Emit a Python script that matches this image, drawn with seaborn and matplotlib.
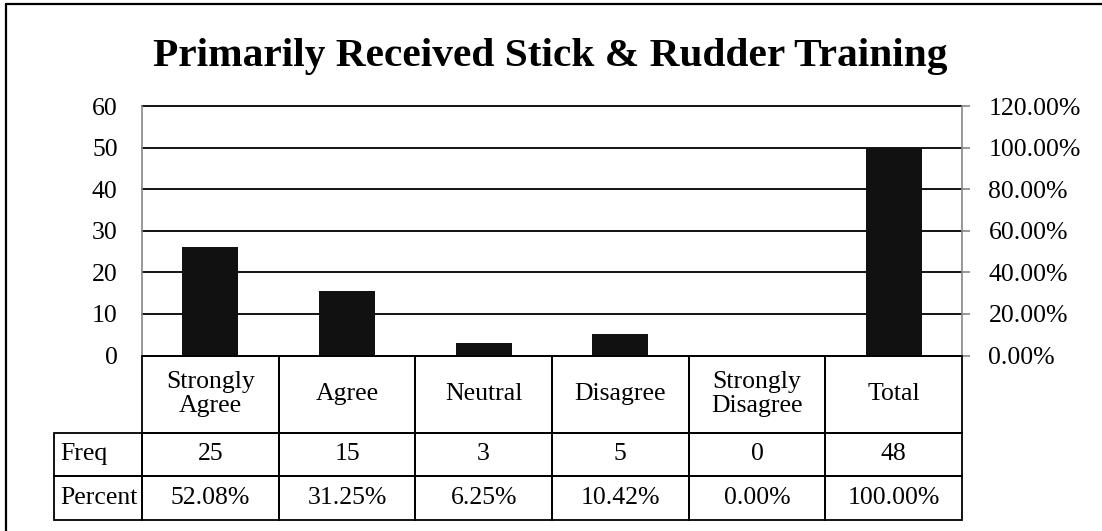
import matplotlib
matplotlib.use("Agg")
import matplotlib.pyplot as plt
from matplotlib.lines import Line2D
from matplotlib.ticker import FuncFormatter, MultipleLocator
import seaborn as sns
import pandas as pd

# ---- data ----
categories = ["Strongly\nAgree", "Agree", "Neutral", "Disagree", "Strongly\nDisagree", "Total"]
freq = [25, 15, 3, 5, 0, 48]
percent = [52.08, 31.25, 6.25, 10.42, 0.00, 100.00]
row_labels = ["Freq", "Percent"]
title = "Primarily Received Stick & Rudder Training"

sns.set_style("white")
plt.rcParams["font.family"] = ["Liberation Serif", "DejaVu Serif"]
plt.rcParams["font.size"] = 18.5
for k in ("text.color", "axes.labelcolor", "xtick.color", "ytick.color"):
    plt.rcParams[k] = "black"

fig = plt.figure(figsize=(11.02, 5.31), dpi=100)
ax = fig.add_axes([142 / 1102, 1 - 355.6 / 531, 820 / 1102, 249.6 / 531])
ax2 = ax.twinx()

df = pd.DataFrame({"cat": categories, "pct": percent})
sns.barplot(data=df, x="cat", y="pct", ax=ax2, color="#111111", width=0.41,
            saturation=1, edgecolor="none", zorder=3)

ax.set_xlim(-0.5, len(categories) - 0.5)
ax.set_ylim(0, 60)
ax.yaxis.set_major_locator(MultipleLocator(10))
ax2.set_ylim(0, 120)
ax2.yaxis.set_major_locator(MultipleLocator(20))
ax2.yaxis.set_major_formatter(FuncFormatter(lambda v, p: f"{v:.2f}%"))

# gridlines (black)
ax.grid(axis="y", color="black", linewidth=1.3)
ax.grid(axis="x", visible=False)
ax2.grid(False)
ax.set_axisbelow(True)
for gl in ax.get_ygridlines():
    gl.set_clip_on(False)

for a in (ax, ax2):
    a.set_xlabel("")
    a.set_ylabel("")
    a.set_xticks([])
    for s in ("top", "bottom"):
        a.spines[s].set_visible(False)
ax.spines["right"].set_visible(False)
ax2.spines["left"].set_visible(False)
ax.spines["left"].set_color("#888888")
ax.spines["left"].set_linewidth(1.2)
ax2.spines["right"].set_color("#888888")
ax2.spines["right"].set_linewidth(1.2)

ax.tick_params(axis="y", length=0, pad=17.5, labelsize=18.5, labelcolor="black")
ax2.tick_params(axis="y", length=6, width=1.2, color="#888888", direction="out",
                pad=13, labelsize=18.5, labelcolor="black")

# ---- data table below the axis ----
cell_text = [[str(v) for v in freq], [f"{v:.2f}%" for v in percent]]
label_w = 92 / 820
tbl_h = (77 + 43 + 44) / 249.6
tbl = ax2.table(cellText=cell_text, rowLabels=row_labels, colLabels=categories,
                cellLoc="center", rowLoc="left",
                bbox=[0, -tbl_h, 1, tbl_h])
tbl.auto_set_font_size(False)
tbl.set_fontsize(18.5)
row_heights = {0: 77, 1: 43, 2: 44}
for (r, c), cell in tbl.get_celld().items():
    cell.set_edgecolor("black")
    cell.set_linewidth(1.3)
    cell.set_height(row_heights[r] / 249.6)
    cell.set_width(label_w if c == -1 else 1 / 6)
    cell.get_text().set_linespacing(1.1)
    cell.set_facecolor("none")
    if c == -1:
        cell.PAD = 0.07
tbl.set_zorder(5)

# ---- title ----
fig.text(0.499, 1 - 66 / 531, title, ha="center", va="baseline",
         fontsize=29.8, fontweight="bold")

# ---- outer frame (top and left edges visible) ----
fig.add_artist(Line2D([6 / 1102, 1.0], [1 - 4 / 531, 1 - 4 / 531],
                      transform=fig.transFigure, color="black", linewidth=1.6))
fig.add_artist(Line2D([6 / 1102, 6 / 1102], [1 - 4 / 531, 0.0],
                      transform=fig.transFigure, color="black", linewidth=1.6))

fig.savefig("out.png", dpi=100, facecolor="white")
